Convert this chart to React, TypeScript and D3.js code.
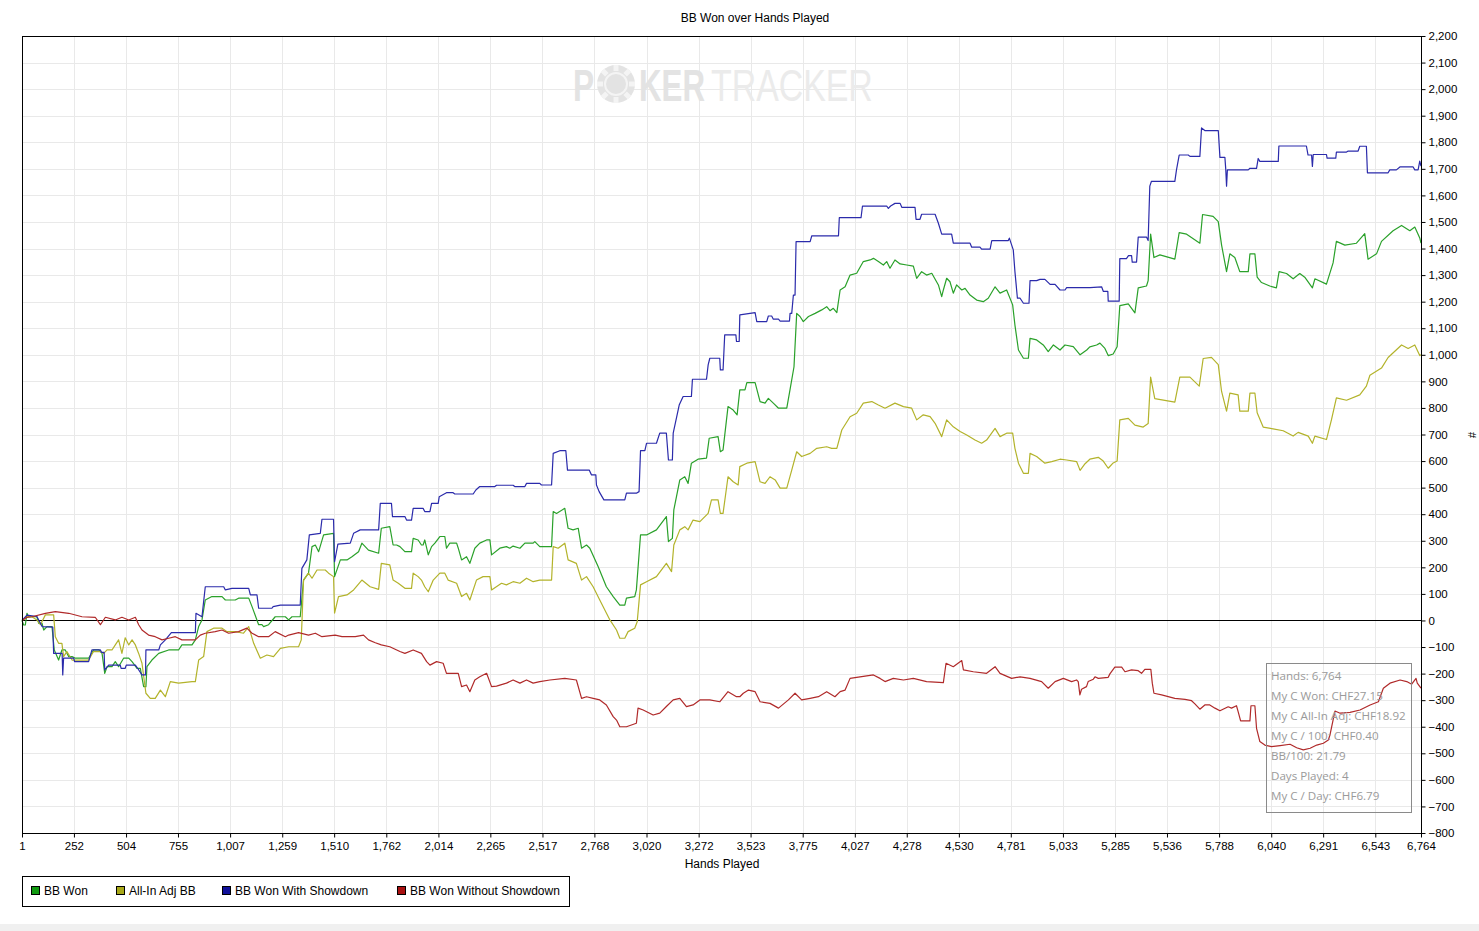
import { useEffect, useRef } from "react";
import * as d3 from "d3";

type Pt = [number, number];

// hands played → cumulative BB
const bbWon: Pt[] = [
  [1,0],[9,-17],[17,-17],[25,27],[33,14],[73,14],[82,-11],[98,-11],[106,-36],[122,-23],[146,-23],[157,-111],[178,-149],[194,-111],[210,-111],[227,-136],[243,-136],[259,-142],[323,-142],[347,-111],[372,-111],[388,-124],[401,-199],[412,-174],[436,-174],[452,-155],[468,-174],[492,-142],[517,-142],[533,-155],[557,-180],[573,-180],[589,-249],[600,-249],[605,-174],[629,-149],[662,-124],[710,-111],[758,-111],[774,-92],[823,-92],[839,-73],[855,-23],[871,2],[887,77],[919,90],[968,90],[984,77],[1032,77],[1048,84],[1097,84],[1113,52],[1145,-16],[1161,-16],[1169,-23],[1193,-16],[1225,14],[1274,14],[1290,2],[1306,14],[1346,14],[1362,152],[1386,178],[1403,278],[1419,284],[1435,259],[1459,322],[1507,328],[1512,165],[1540,228],[1572,228],[1596,240],[1628,259],[1644,291],[1676,265],[1725,253],[1738,347],
  [1779,353],[1795,284],[1812,284],[1828,278],[1852,259],[1884,259],[1892,309],[1916,303],[1932,284],[1940,284],[1948,303],[1965,247],[1981,278],[1997,291],[2021,316],[2045,316],[2053,272],[2069,291],[2102,291],[2110,272],[2126,228],[2150,240],[2166,215],[2190,272],[2214,291],[2247,303],[2263,303],[2271,247],[2311,272],[2343,278],[2359,272],[2375,280],[2408,272],[2432,291],[2472,291],[2480,297],[2504,278],[2561,278],[2569,410],[2585,403],[2625,422],[2641,347],[2665,341],[2690,347],[2706,272],[2730,284],[2746,272],[2786,203],[2826,127],[2859,90],[2891,58],[2915,58],[2923,84],[2963,90],[2971,115],[2991,322],[3020,322],[3068,341],[3116,391],[3126,297],[3145,309],[3152,416],[3181,529],[3205,541],[3221,516],[3237,592],[3269,607],[3310,611],[3323,686],[3366,692],[3377,635],[3390,642],[3414,805],[3439,792],[3458,774],[3471,868],
  [3496,868],[3505,895],[3545,895],[3569,824],[3593,818],[3609,836],[3633,818],[3658,799],[3698,799],[3714,870],[3733,955],[3746,1156],[3762,1144],[3778,1125],[3803,1144],[3835,1156],[3867,1169],[3891,1181],[3907,1166],[3923,1175],[3940,1159],[3956,1244],[3980,1256],[4004,1300],[4036,1307],[4068,1351],[4101,1357],[4117,1363],[4141,1351],[4165,1338],[4181,1351],[4197,1326],[4221,1357],[4246,1342],[4278,1338],[4310,1334],[4326,1288],[4350,1313],[4374,1300],[4399,1307],[4431,1263],[4447,1219],[4455,1244],[4471,1288],[4487,1275],[4503,1232],[4519,1263],[4544,1244],[4560,1250],[4584,1225],[4616,1206],[4648,1200],[4672,1213],[4705,1256],[4729,1232],[4761,1244],[4790,1188],[4801,1112],[4818,1018],[4842,987],[4866,987],[4874,1062],[4906,1056],[4938,1037],[4962,1012],[4987,1037],[5019,1018],[5043,1037],[5083,1031],[5116,1000],[5148,1018],[5163,1030],
  [5196,1037],[5212,1044],[5236,1024],[5252,997],[5276,1003],[5295,1030],[5308,1185],[5349,1192],[5381,1158],[5397,1252],[5437,1259],[5445,1279],[5457,1454],[5473,1366],[5502,1376],[5574,1360],[5595,1460],[5631,1454],[5695,1420],[5708,1528],[5759,1521],[5784,1501],[5800,1413],[5824,1313],[5840,1380],[5864,1366],[5888,1313],[5929,1313],[5937,1380],[5961,1380],[5972,1292],[5993,1272],[6033,1259],[6065,1252],[6078,1313],[6114,1306],[6146,1286],[6178,1306],[6202,1292],[6239,1252],[6251,1286],[6307,1266],[6339,1346],[6355,1427],[6396,1413],[6452,1420],[6492,1456],[6508,1360],[6549,1380],[6573,1427],[6629,1467],[6670,1487],[6710,1467],[6734,1481],[6758,1440],[6764,1420],
];

const allInAdj: Pt[] = [
  [1,0],[25,14],[49,14],[73,2],[90,-16],[114,21],[154,21],[162,-61],[178,-86],[194,-86],[202,-136],[218,-117],[243,-149],[323,-149],[347,-117],[380,-117],[396,-124],[412,-111],[436,-111],[452,-92],[468,-73],[484,-124],[500,-65],[517,-92],[533,-73],[549,-92],[565,-124],[581,-161],[600,-274],[621,-293],[645,-293],[670,-262],[694,-287],[718,-230],[758,-236],[823,-230],[839,-230],[855,-149],[879,-136],[895,-42],[927,-29],[968,-29],[992,-42],[1032,-42],[1072,-48],[1097,-23],[1121,-86],[1153,-142],[1185,-130],[1217,-136],[1250,-105],[1290,-99],[1338,-99],[1351,-73],[1362,152],[1386,178],[1403,159],[1427,190],[1467,190],[1483,178],[1507,165],[1512,28],[1531,90],[1572,96],[1604,115],[1644,152],[1684,127],[1725,117],[1738,215],
  [1779,209],[1795,152],[1820,140],[1852,121],[1884,121],[1892,178],[1916,165],[1932,152],[1948,127],[1965,108],[1989,152],[2021,178],[2045,178],[2061,152],[2102,140],[2126,90],[2150,102],[2166,77],[2198,152],[2230,165],[2263,165],[2271,115],[2319,140],[2343,134],[2375,146],[2408,140],[2440,159],[2472,146],[2504,152],[2561,152],[2569,278],[2593,272],[2625,291],[2641,228],[2681,215],[2706,152],[2730,165],[2762,127],[2794,77],[2843,2],[2875,-36],[2891,-67],[2915,-67],[2931,-42],[2963,-29],[2975,-5],[2991,134],[3020,146],[3068,165],[3116,215],[3141,184],[3152,284],[3181,341],[3205,353],[3221,341],[3245,378],[3278,372],[3318,403],[3334,454],[3366,454],[3377,403],[3390,403],[3414,541],[3439,522],[3463,510],[3471,579],
  [3505,592],[3545,598],[3569,522],[3593,516],[3617,541],[3642,529],[3666,498],[3698,498],[3722,566],[3746,635],[3770,617],[3811,629],[3843,648],[3891,654],[3915,648],[3940,648],[3964,717],[4004,767],[4036,780],[4068,818],[4109,824],[4141,811],[4173,799],[4221,818],[4262,805],[4302,799],[4326,755],[4358,774],[4391,767],[4415,742],[4447,692],[4471,755],[4503,729],[4536,711],[4568,698],[4608,679],[4640,667],[4664,679],[4705,723],[4729,692],[4761,705],[4790,705],[4801,648],[4818,592],[4842,554],[4866,554],[4874,629],[4906,617],[4946,592],[4979,598],[5019,607],[5051,604],[5099,598],[5116,565],[5140,590],[5163,607],
  [5204,614],[5228,600],[5252,573],[5276,593],[5295,600],[5308,755],[5349,761],[5381,735],[5421,728],[5445,741],[5457,916],[5477,835],[5574,822],[5598,916],[5647,916],[5692,882],[5711,986],[5751,990],[5784,963],[5800,862],[5824,788],[5840,856],[5880,849],[5888,788],[5929,788],[5937,856],[5961,856],[5972,782],[6001,728],[6049,721],[6098,714],[6146,694],[6170,708],[6219,694],[6239,667],[6251,694],[6307,681],[6331,755],[6355,838],[6404,829],[6468,849],[6500,882],[6517,923],[6573,950],[6605,990],[6670,1037],[6702,1024],[6734,1037],[6758,997],[6764,1000],
];

const withShowdown: Pt[] = [
  [1,0],[25,20],[73,15],[98,-23],[150,-25],[154,-124],[195,-124],[198,-205],[202,-142],[251,-142],[255,-155],[323,-155],[339,-111],[380,-111],[385,-120],[398,-120],[401,-186],[420,-168],[476,-168],[480,-180],[500,-180],[505,-168],[549,-168],[560,-180],[581,-205],[598,-205],[600,-111],[662,-111],[670,-92],[694,-73],[723,-46],[839,-46],[842,27],[871,14],[887,127],[976,127],[984,115],[1016,121],[1097,121],[1105,96],[1137,96],[1145,46],[1209,46],[1215,52],[1250,58],[1346,58],[1354,196],[1378,228],[1390,322],[1443,328],[1451,381],[1507,381],[1512,221],[1528,287],[1588,291],[1604,328],[1636,341],[1725,341],[1733,441],
  [1787,441],[1792,391],[1852,391],[1860,378],[1884,378],[1892,422],[1940,422],[1948,410],[1973,410],[1981,441],[2013,441],[2018,466],[2053,481],[2085,481],[2093,476],[2182,476],[2195,491],[2214,504],[2287,504],[2295,509],[2375,509],[2383,504],[2432,504],[2440,516],[2504,516],[2512,510],[2561,510],[2569,629],[2601,639],[2630,639],[2638,566],[2743,566],[2754,548],[2775,548],[2778,510],[2791,485],[2814,454],[2915,454],[2923,479],[2971,479],[2984,485],[2991,639],[3012,639],[3020,667],[3068,667],[3084,705],[3116,705],[3126,604],[3145,604],[3149,705],[3178,811],[3197,843],[3237,843],[3242,908],[3310,908],[3318,962],[3326,987],[3374,987],[3377,943],[3390,943],[3398,1075],[3452,1075],[3455,1050],[3468,1050],[3471,1150],
  [3545,1159],[3553,1125],[3601,1125],[3609,1146],[3625,1146],[3633,1134],[3658,1134],[3666,1127],[3711,1127],[3714,1156],[3722,1156],[3730,1225],[3738,1225],[3743,1426],[3811,1426],[3819,1448],[3948,1448],[3952,1516],[4057,1516],[4064,1560],[4181,1560],[4189,1551],[4200,1560],[4221,1570],[4246,1570],[4254,1555],[4318,1555],[4323,1510],[4342,1510],[4350,1529],[4415,1529],[4431,1495],[4447,1454],[4495,1454],[4503,1420],[4584,1420],[4592,1405],[4632,1405],[4640,1398],[4681,1398],[4689,1430],[4769,1430],[4774,1439],[4793,1395],[4801,1313],[4813,1213],[4826,1213],[4842,1194],[4869,1194],[4874,1279],[4906,1279],[4922,1284],[4946,1284],[4971,1265],[4995,1265],[5019,1244],[5043,1244],[5051,1253],[5164,1253],
  [5220,1256],[5228,1239],[5250,1239],[5252,1202],[5305,1202],[5308,1362],[5340,1362],[5350,1373],[5365,1373],[5368,1349],[5389,1349],[5397,1443],[5437,1443],[5445,1430],[5453,1635],[5461,1653],[5574,1653],[5582,1696],[5595,1752],[5639,1752],[5647,1747],[5695,1747],[5703,1854],[5719,1844],[5784,1844],[5792,1743],[5816,1743],[5820,1700],[5824,1635],[5828,1696],[5929,1696],[5937,1702],[5969,1702],[5977,1739],[5985,1728],[6074,1728],[6077,1786],[6210,1786],[6218,1752],[6235,1752],[6239,1709],[6243,1754],[6307,1754],[6310,1740],[6352,1740],[6355,1763],[6404,1763],[6412,1767],[6460,1767],[6468,1785],[6500,1785],[6505,1685],[6605,1685],[6613,1696],[6645,1696],[6662,1707],[6726,1707],[6734,1696],[6750,1696],[6758,1729],[6764,1710],
];

const withoutShowdown: Pt[] = [
  [1,0],[25,12],[49,14],[114,27],[162,33],[227,27],[291,14],[355,12],[380,-16],[404,12],[452,2],[484,12],[517,2],[549,12],[565,-16],[581,-36],[613,-55],[645,-61],[678,-73],[710,-67],[742,-61],[774,-73],[839,-73],[863,-55],[887,-48],[935,-42],[968,-36],[1000,-48],[1048,-42],[1088,-29],[1113,-48],[1145,-61],[1193,-61],[1225,-42],[1274,-61],[1290,-55],[1338,-46],[1386,-55],[1419,-48],[1451,-61],[1515,-55],[1548,-61],[1612,-61],[1652,-55],[1676,-73],[1709,-84],[1738,-92],
  [1779,-99],[1828,-117],[1852,-124],[1892,-111],[1932,-124],[1957,-155],[1973,-168],[2005,-155],[2037,-161],[2053,-199],[2110,-199],[2126,-249],[2150,-243],[2166,-268],[2190,-224],[2214,-212],[2247,-199],[2271,-249],[2295,-247],[2343,-236],[2375,-224],[2408,-236],[2440,-224],[2472,-236],[2504,-230],[2553,-224],[2625,-218],[2681,-224],[2706,-293],[2730,-287],[2762,-293],[2794,-299],[2826,-318],[2859,-362],[2875,-375],[2891,-400],[2923,-400],[2971,-387],[2979,-330],[3004,-337],[3052,-356],[3084,-349],[3116,-324],[3149,-299],[3181,-293],[3213,-324],[3245,-318],[3278,-299],[3326,-299],[3374,-306],[3414,-268],[3455,-287],[3471,-287],
  [3488,-274],[3513,-262],[3545,-268],[3569,-306],[3617,-312],[3658,-330],[3706,-299],[3738,-274],[3770,-299],[3811,-293],[3851,-287],[3891,-268],[3931,-287],[3956,-268],[3980,-262],[4004,-218],[4052,-212],[4117,-205],[4149,-218],[4173,-230],[4213,-218],[4262,-224],[4310,-218],[4374,-230],[4455,-234],[4468,-161],[4503,-174],[4544,-151],[4552,-186],[4600,-193],[4664,-199],[4705,-174],[4729,-199],[4785,-218],[4826,-212],[4874,-218],[4930,-230],[4962,-255],[4995,-230],[5035,-218],[5075,-230],[5099,-224],
  [5107,-230],[5115,-280],[5123,-259],[5147,-249],[5155,-230],[5180,-221],[5188,-212],[5204,-218],[5252,-214],[5260,-201],[5284,-176],[5317,-176],[5333,-193],[5365,-186],[5397,-189],[5413,-199],[5429,-184],[5458,-184],[5465,-236],[5473,-274],[5510,-280],[5574,-293],[5623,-297],[5655,-302],[5671,-314],[5695,-334],[5719,-318],[5743,-318],[5768,-330],[5792,-340],[5832,-325],[5848,-330],[5872,-321],[5880,-343],[5892,-378],[5937,-378],[5942,-321],[5961,-321],[5969,-406],[5985,-456],[6009,-469],[6041,-475],
  [6083,-471],[6131,-466],[6163,-479],[6195,-487],[6228,-481],[6260,-469],[6292,-462],[6316,-450],[6324,-431],[6348,-341],[6373,-349],[6421,-346],[6469,-337],[6518,-318],[6558,-306],[6582,-255],[6614,-236],[6663,-224],[6695,-230],[6719,-240],[6740,-218],[6746,-236],[6764,-255],
];

const xTicks = [1, 252, 504, 755, 1007, 1259, 1510, 1762, 2014, 2265, 2517, 2768, 3020, 3272, 3523, 3775, 4027, 4278, 4530, 4781, 5033, 5285, 5536, 5788, 6040, 6291, 6543, 6764];
const yTicks = d3.range(-800, 2201, 100);

const seriesNames = ["BB Won", "All-In Adj BB", "BB Won With Showdown", "BB Won Without Showdown"];
const lineColors = ["#2aa12a", "#b3b32b", "#2b2bab", "#b02a2a"];
const swatchColors = ["#109a10", "#a8a818", "#10109a", "#a81010"];

const tooltipLines = [
  "Hands: 6,764",
  "My C Won: CHF27.15",
  "My C All-In Adj: CHF18.92",
  "My C / 100: CHF0.40",
  "BB/100: 21.79",
  "Days Played: 4",
  "My C / Day: CHF6.79",
];

const W = 1479;
const H = 931;
const FONT = "'Liberation Sans', Arial, sans-serif";

export default function App() {
  const svgRef = useRef<SVGSVGElement>(null);

  useEffect(() => {
    if (!svgRef.current) return;
    const svg = d3.select(svgRef.current);
    svg.selectAll("*").remove();

    const left = 22, right = 1421, top = 36, bottom = 833;

    const x = d3.scaleLinear().domain([1, 6764]).range([left, right]);
    const y = d3.scaleLinear().domain([-800, 2200]).range([bottom, top]);

    svg.append("rect").attr("width", W).attr("height", H).attr("fill", "#fff");
    svg.append("rect").attr("x", 0).attr("y", 924).attr("width", W).attr("height", 7).attr("fill", "#f0f0f0");

    // title
    svg.append("text")
      .attr("x", 755).attr("y", 22)
      .attr("text-anchor", "middle")
      .attr("font-family", FONT).attr("font-size", 12)
      .text("BB Won over Hands Played");

    // grid
    const grid = svg.append("g").attr("stroke", "#e9e9e9").attr("stroke-width", 1);
    grid.selectAll("line.h")
      .data(yTicks)
      .enter().append("line")
      .attr("x1", left).attr("x2", right)
      .attr("y1", d => Math.round(y(d)) + 0.5).attr("y2", d => Math.round(y(d)) + 0.5);
    grid.selectAll("line.v")
      .data(xTicks.slice(1, -1))
      .enter().append("line")
      .attr("y1", top).attr("y2", bottom)
      .attr("x1", d => Math.round(x(d)) + 0.5).attr("x2", d => Math.round(x(d)) + 0.5);

    // watermark, squeezed horizontally; a chip stands in for the "O"
    const chip = svg.append("g").attr("transform", "translate(616,84)");
    chip.append("circle").attr("r", 19).attr("fill", "#e3e3e3");
    chip.append("circle").attr("r", 11).attr("fill", "none").attr("stroke", "#f4f4f4").attr("stroke-width", 2);
    d3.range(8).forEach(i => {
      chip.append("rect").attr("x", -2.5).attr("y", -19).attr("width", 5).attr("height", 6)
        .attr("fill", "#f4f4f4").attr("transform", `rotate(${i * 45})`);
    });
    const wmParts = [
      { t: "P", x: 573, sx: 0.72, bold: true, fill: "#e3e3e3" },
      { t: "KER", x: 639, sx: 0.71, bold: true, fill: "#e3e3e3" },
      { t: "TRACKER", x: 711, sx: 0.77, bold: false, fill: "#ebebeb" },
    ];
    wmParts.forEach(p => {
      svg.append("text")
        .attr("transform", `translate(${p.x},101) scale(${p.sx},1)`)
        .attr("font-family", FONT).attr("font-size", 44)
        .attr("font-weight", p.bold ? "bold" : "normal")
        .attr("fill", p.fill)
        .text(p.t);
    });

    // zero line
    svg.append("line")
      .attr("x1", left).attr("x2", right)
      .attr("y1", Math.round(y(0)) + 0.5).attr("y2", Math.round(y(0)) + 0.5)
      .attr("stroke", "#000");

    // series
    const line = d3.line<Pt>().x(d => x(d[0])).y(d => y(d[1]));
    [bbWon, allInAdj, withShowdown, withoutShowdown].forEach((s, i) => {
      svg.append("path")
        .datum(s)
        .attr("fill", "none")
        .attr("stroke", lineColors[i])
        .attr("stroke-width", 1.2)
        .attr("stroke-linejoin", "round")
        .attr("d", line);
    });

    // frame
    svg.append("rect")
      .attr("x", left + 0.5).attr("y", top + 0.5)
      .attr("width", right - left).attr("height", bottom - top)
      .attr("fill", "none").attr("stroke", "#000");

    // axes
    const yAxis = svg.append("g")
      .attr("transform", `translate(${right + 0.5},0)`)
      .call(d3.axisRight(y).tickValues(yTicks).tickFormat(d3.format(",") as any).tickSize(4).tickPadding(3).tickSizeOuter(0));
    yAxis.select(".domain").remove();
    yAxis.selectAll("text").attr("font-family", FONT).attr("font-size", 11.5).attr("fill", "#000");

    const xAxis = svg.append("g")
      .attr("transform", `translate(0,${bottom + 0.5})`)
      .call(d3.axisBottom(x).tickValues(xTicks).tickFormat(d3.format(",") as any).tickSize(4).tickPadding(4).tickSizeOuter(0));
    xAxis.select(".domain").remove();
    xAxis.selectAll("text").attr("font-family", FONT).attr("font-size", 11.5).attr("fill", "#000");

    svg.append("text")
      .attr("x", 722).attr("y", 868)
      .attr("text-anchor", "middle")
      .attr("font-family", FONT).attr("font-size", 12)
      .text("Hands Played");

    svg.append("text")
      .attr("transform", "translate(1468,435) rotate(90)")
      .attr("text-anchor", "middle")
      .attr("font-family", FONT).attr("font-size", 11)
      .text("#");

    // tooltip box
    const tip = svg.append("g");
    tip.append("rect")
      .attr("x", 1266.5).attr("y", 663.5).attr("width", 145).attr("height", 149)
      .attr("fill", "none").attr("stroke", "#8a8a8a");
    tip.selectAll("text")
      .data(tooltipLines)
      .enter().append("text")
      .attr("x", 1271).attr("y", (_, i) => 680 + i * 20)
      .attr("font-family", "'Open Sans', 'Noto Sans', sans-serif")
      .attr("font-size", 11.6)
      .attr("fill", "#9a9a9a")
      .text(d => d);

    // legend
    const legendX = [31, 116, 222, 397];
    const legend = svg.append("g");
    legend.append("rect")
      .attr("x", 22.5).attr("y", 876.5).attr("width", 547).attr("height", 30)
      .attr("fill", "#fff").attr("stroke", "#000");
    seriesNames.forEach((name, i) => {
      legend.append("rect")
        .attr("x", legendX[i] + 0.5).attr("y", 886.5).attr("width", 8).attr("height", 8)
        .attr("fill", swatchColors[i]).attr("stroke", "#000");
      legend.append("text")
        .attr("x", legendX[i] + 13).attr("y", 895)
        .attr("font-family", FONT).attr("font-size", 12)
        .text(name);
    });
  }, []);

  return (
    <div style={{ position: "absolute", left: 0, top: 0 }}>
      <svg ref={svgRef} width={W} height={H} style={{ display: "block" }}></svg>
    </div>
  );
}
